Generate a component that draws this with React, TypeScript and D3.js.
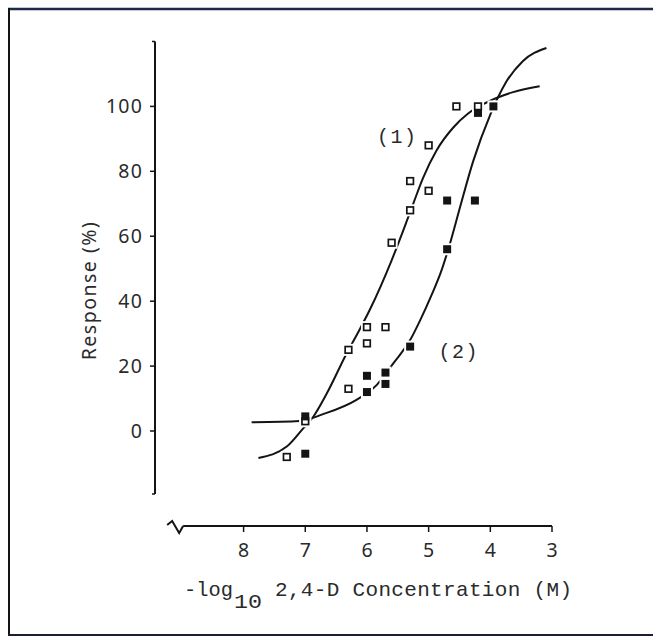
import React from 'react';
import * as d3 from 'd3';

// -log10 concentration, response (%)
const openX = [7.3, 7.0, 6.3, 6.3, 6.0, 6.0, 5.7, 5.6, 5.3, 5.3, 5.0, 5.0, 4.55, 4.2];
const openY = [-8, 3, 25, 13, 32, 27, 32, 58, 77, 68, 88, 74, 100, 100];

const filledX = [7.0, 7.0, 6.0, 6.0, 5.7, 5.7, 5.3, 4.7, 4.7, 4.25, 4.2, 3.95];
const filledY = [4.5, -7, 17, 12, 18, 14.5, 26, 56, 71, 71, 98, 100];

// fitted curves
const curve1X = [7.76, 7.3, 7.03, 6.87, 6.65, 6.33, 6.14, 5.95, 5.6, 5.36, 5.25, 5.09, 4.87, 4.6, 4.36, 4.06, 3.63, 3.2];
const curve1Y = [-8.3, -4.8, 0.9, 4.4, 11.6, 23.9, 30.5, 37.5, 52.6, 64.4, 70, 78, 86.5, 93.5, 97.8, 101.2, 104.4, 106.2];

const curve2X = [7.87, 7.09, 6.71, 6.17, 5.84, 5.57, 5.3, 5.14, 4.95, 4.8, 4.65, 4.49, 4.28, 4.0, 3.76, 3.47, 3.09];
const curve2Y = [2.7, 3.1, 5.2, 9.6, 14.2, 20.9, 28, 34, 42, 49, 58, 69, 83, 97.5, 107, 114, 118];

const xTicks = [8, 7, 6, 5, 4, 3];
const yTicks = [0, 20, 40, 60, 80, 100];
const yAxisExtent = [-19.4, 120];
const xAxisExtent = [8.98, 3];

const curveLabels = [
  { text: '(1)', x: 5.51, y: 88.6 },
  { text: '(2)', x: 4.51, y: 22.5 },
];

const W = 653;
const H = 639;

const x = d3.scaleLinear().domain([8, 3]).range([243.6, 552]);
const y = d3.scaleLinear().domain([0, 100]).range([431, 106.4]);

const toPts = (xs: number[], ys: number[]) => xs.map((v, i) => [v, ys[i]] as [number, number]);

const line = d3
  .line<[number, number]>()
  .x((d) => x(d[0]))
  .y((d) => y(d[1]))
  .curve(d3.curveMonotoneX);

const App = () => {
  const ink = '#141414';
  const axisX = 155;
  const axisY = 526;
  const xStart = x(xAxisExtent[0]);

  const opens = toPts(openX, openY);
  const filled = toPts(filledX, filledY);
  const all = opens.concat(filled);

  return (
    <svg
      width={W}
      height={H}
      style={{ position: 'absolute', left: 0, top: 0, background: '#fff' }}
    >
      {/* frame */}
      <line x1={8} y1={9} x2={W} y2={9} stroke="#1c2a4c" strokeWidth={2.5} />
      <line x1={9} y1={8} x2={9} y2={636} stroke={ink} strokeWidth={2} />
      <line x1={8} y1={635} x2={W} y2={635} stroke="#1a2030" strokeWidth={2} />

      {/* y axis */}
      <line x1={axisX} y1={y(yAxisExtent[1])} x2={axisX} y2={y(yAxisExtent[0])} stroke={ink} strokeWidth={2} />
      <line x1={axisX - 3} y1={y(yAxisExtent[1])} x2={axisX} y2={y(yAxisExtent[1])} stroke={ink} strokeWidth={1.5} />
      <line x1={axisX - 3} y1={y(yAxisExtent[0])} x2={axisX} y2={y(yAxisExtent[0])} stroke={ink} strokeWidth={1.5} />
      {yTicks.map((t) => (
        <g key={t}>
          <line x1={axisX - 5} y1={y(t)} x2={axisX} y2={y(t)} stroke={ink} strokeWidth={1.5} />
          <text
            x={143}
            y={y(t) + 7}
            textAnchor="end"
            fontFamily="'Noto Sans', sans-serif"
            fontSize={19.5}
            letterSpacing={1.2}
            fill="#2a2a2a"
          >
            {t}
          </text>
        </g>
      ))}
      <text
        transform={`translate(96,${(212 + 369) / 2}) rotate(-90)`}
        textAnchor="middle"
        fontFamily="'Noto Sans', sans-serif"
        fontSize={19.5}
        letterSpacing={1.5}
        fill="#2a2a2a"
      >
        Response (%)
      </text>

      {/* x axis with break */}
      <path
        d={`M${xStart - 16},${axisY - 1} L${xStart - 11},${axisY - 5} L${xStart - 4},${axisY + 7} L${xStart},${axisY}`}
        fill="none"
        stroke={ink}
        strokeWidth={2}
      />
      <line x1={xStart} y1={axisY} x2={x(xAxisExtent[1])} y2={axisY} stroke={ink} strokeWidth={2} />
      {xTicks.map((t) => (
        <g key={t}>
          <line x1={x(t)} y1={axisY} x2={x(t)} y2={axisY + 6} stroke={ink} strokeWidth={1.5} />
          <text
            x={x(t)}
            y={557}
            textAnchor="middle"
            fontFamily="'Noto Sans', sans-serif"
            fontSize={19.5}
            fill="#2a2a2a"
          >
            {t}
          </text>
        </g>
      ))}
      <text fontFamily="'Liberation Mono', monospace" fontSize={21} fill="#2a2a2a">
        <tspan x={184} y={596} textLength={49} lengthAdjust="spacingAndGlyphs">-log</tspan>
        <tspan x={234} y={608} fontSize={20} textLength={28} lengthAdjust="spacingAndGlyphs">10</tspan>
        <tspan x={275} y={596} textLength={297} lengthAdjust="spacing">2,4-D Concentration (M)</tspan>
      </text>

      {/* curves */}
      <path d={line(toPts(curve1X, curve1Y)) || ''} fill="none" stroke={ink} strokeWidth={2} />
      <path d={line(toPts(curve2X, curve2Y)) || ''} fill="none" stroke={ink} strokeWidth={2} />

      {/* white gaps around points */}
      {all.map((d, i) => (
        <rect key={'h' + i} x={x(d[0]) - 6} y={y(d[1]) - 6} width={12} height={12} fill="#fff" />
      ))}

      {opens.map((d, i) => (
        <rect
          key={'o' + i}
          x={x(d[0]) - 3.3}
          y={y(d[1]) - 3.3}
          width={6.6}
          height={6.6}
          fill="#fff"
          stroke={ink}
          strokeWidth={1.7}
        />
      ))}
      {filled.map((d, i) => (
        <rect key={'f' + i} x={x(d[0]) - 4} y={y(d[1]) - 4} width={8} height={8} fill={ink} />
      ))}

      {curveLabels.map((l) => (
        <text
          key={l.text}
          x={x(l.x)}
          y={y(l.y)}
          textAnchor="middle"
          fontFamily="'Liberation Mono', monospace"
          fontSize={20}
          letterSpacing={1.5}
          fill="#2a2a2a"
        >
          {l.text}
        </text>
      ))}
    </svg>
  );
};

export default App;
